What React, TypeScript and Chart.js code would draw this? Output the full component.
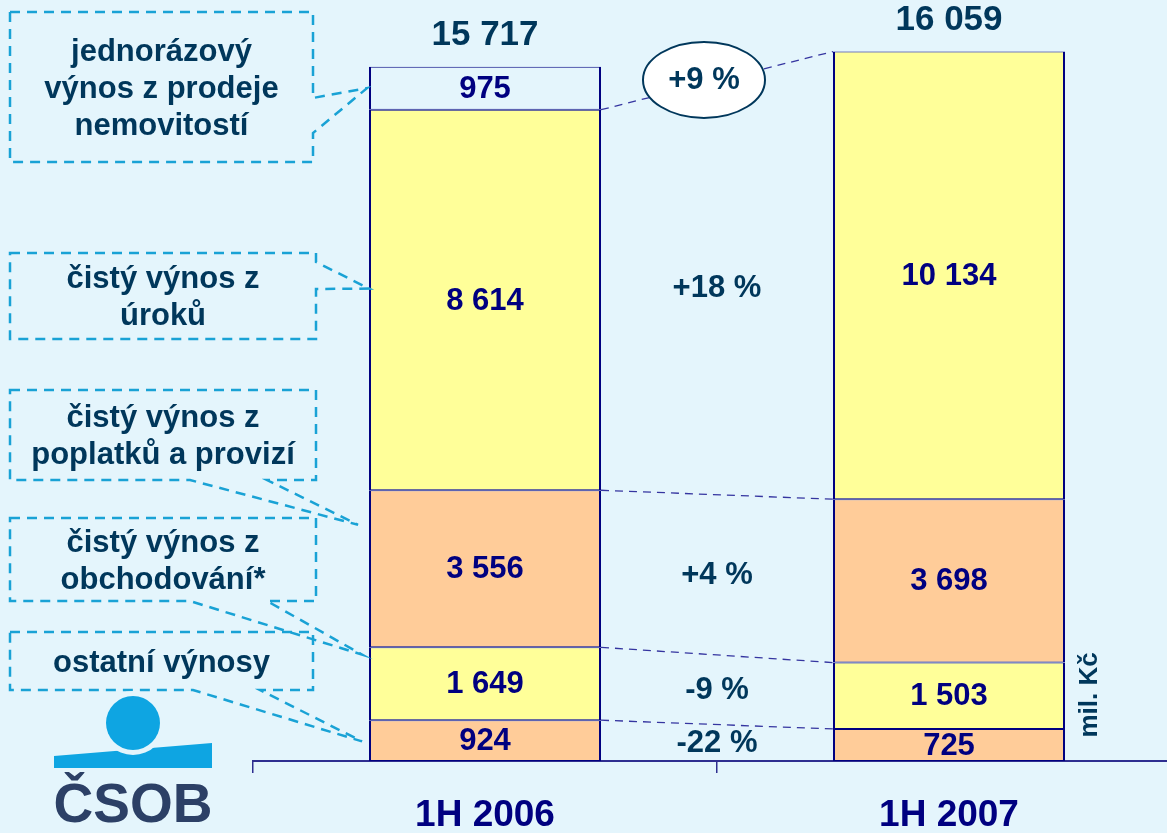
import React, { useEffect, useRef } from "react";
import { Chart, registerables } from "chart.js";

Chart.register(...registerables);

// ---------- data ----------
const categories = ["1H 2006", "1H 2007"];
const otherIncome = [924, 725];
const tradingIncome = [1649, 1503];
const feeIncome = [3556, 3698];
const interestIncome = [8614, 10134];
const oneOffIncome: (number | null)[] = [975, null];
const totals = [15717, 16059];
const changeLabels = ["-22 %", "-9 %", "+4 %", "+18 %", "+9 %"];
const seriesNames = [
  "ostatní výnosy",
  "čistý výnos z obchodování*",
  "čistý výnos z poplatků a provizí",
  "čistý výnos z úroků",
  "jednorázový výnos z prodeje nemovitostí",
];
const calloutLines = [
  ["ostatní výnosy"],
  ["čistý výnos z", "obchodování*"],
  ["čistý výnos z", "poplatků a provizí"],
  ["čistý výnos z", "úroků"],
  ["jednorázový", "výnos z prodeje", "nemovitostí"],
];
const unitLabel = "mil. Kč";
const logoText = "ČSOB";

// ---------- styles ----------
const FONT = '"Liberation Sans", Arial, sans-serif';
const BG = "#E4F5FC";
const YELLOW = "#FFFF99";
const ORANGE = "#FFCC99";
const NAVY = "#000080";
const DARK = "#00375B";
const CYAN = "#19A2D5";
const AXIS = "#2E2E90";

const fmt = (n: number) => String(n).replace(/\B(?=(\d{3})+(?!\d))/g, " ");

// decorative callout geometry (pixels)
const callouts = [
  { series: 0, box: [10, 632, 313, 690], side: "bottom", base: [193, 260], tipFrac: 0.52, tipDx: -7 },
  { series: 1, box: [10, 518, 316, 601], side: "bottom", base: [190, 267], tipFrac: 0.1, tipDx: -7 },
  { series: 2, box: [10, 390, 316, 480], side: "bottom", base: [190, 267], tipFrac: 0.22, tipDx: -11 },
  { series: 3, box: [10, 253, 316, 339], side: "right", base: [262, 289], tipFrac: 0.47, tipDx: 0 },
  { series: 4, box: [10, 12, 313, 162], side: "right", base: [98, 133], tipFrac: 0.5, tipDx: -2 },
];

const overlay = {
  id: "overlay",
  afterDatasetsDraw(chart: any) {
    const ctx = chart.ctx as CanvasRenderingContext2D;
    const n = chart.data.datasets.length;
    const els: any[][] = [];
    for (let i = 0; i < n; i++) {
      const meta = chart.getDatasetMeta(i);
      els.push(meta.data.map((e: any) => e.getProps(["x", "y", "base", "width"], true)));
    }
    const vals = (i: number, j: number) => chart.data.datasets[i].data[j] as number | null;

    // connectors between bars
    ctx.save();
    ctx.strokeStyle = "#3535A0";
    ctx.lineWidth = 1.3;
    ctx.setLineDash([8, 6]);
    for (let k = 0; k < 4; k++) {
      const a = els[k][0];
      const b = els[k][1];
      ctx.beginPath();
      ctx.moveTo(a.x + a.width / 2, a.y);
      ctx.lineTo(b.x - b.width / 2, b.y);
      ctx.stroke();
    }
    ctx.restore();

    // segment labels
    ctx.save();
    ctx.textAlign = "center";
    ctx.textBaseline = "middle";
    ctx.fillStyle = NAVY;
    ctx.font = `bold 31px ${FONT}`;
    for (let i = 0; i < n; i++) {
      for (let j = 0; j < categories.length; j++) {
        const v = vals(i, j);
        if (v == null) continue;
        const e = els[i][j];
        ctx.fillText(fmt(v), e.x, (e.y + e.base) / 2 + 1);
      }
    }
    ctx.restore();

    // totals
    ctx.save();
    ctx.textAlign = "center";
    ctx.textBaseline = "middle";
    ctx.fillStyle = DARK;
    ctx.font = `bold 35px ${FONT}`;
    const yScale = chart.scales.y;
    for (let j = 0; j < categories.length; j++) {
      const x = els[0][j].x;
      const top = yScale.getPixelForValue(totals[j]);
      ctx.fillText(fmt(totals[j]), x, top - 31);
    }
    ctx.restore();

    // change labels
    const x0 = els[0][0].x + els[0][0].width / 2;
    const x1 = els[0][1].x - els[0][1].width / 2;
    const mid = (x0 + x1) / 2;
    ctx.save();
    ctx.textAlign = "center";
    ctx.textBaseline = "middle";
    ctx.fillStyle = DARK;
    ctx.font = `bold 31px ${FONT}`;
    for (let k = 0; k < 4; k++) {
      const a = els[k][0];
      const b = els[k][1];
      const y = ((a.y + a.base) / 2 + (b.y + b.base) / 2) / 2;
      ctx.fillText(changeLabels[k], mid, y + 1);
    }
    // ellipse for total change
    const a3 = els[3][0];
    const b3 = els[3][1];
    const ex = mid - 13;
    const t = (ex - x0) / (x1 - x0);
    const ey = a3.y + (b3.y - a3.y) * t - 4;
    ctx.beginPath();
    ctx.ellipse(ex, ey, 61, 38, 0, 0, Math.PI * 2);
    ctx.fillStyle = "#FFFFFF";
    ctx.fill();
    ctx.lineWidth = 2;
    ctx.strokeStyle = DARK;
    ctx.stroke();
    ctx.fillStyle = DARK;
    ctx.fillText(changeLabels[4], ex, ey + 1);
    ctx.restore();

    // callouts
    ctx.save();
    const barLeft = els[0][0].x - els[0][0].width / 2;
    for (const c of callouts) {
      const [l, tp, r, bt] = c.box;
      const e = els[c.series][0];
      const tipX = barLeft + c.tipDx;
      const tipY = e.y + (e.base - e.y) * c.tipFrac;
      ctx.beginPath();
      ctx.moveTo(l, tp);
      ctx.lineTo(r, tp);
      if (c.side === "right") {
        ctx.lineTo(r, c.base[0]);
        ctx.lineTo(tipX, tipY);
        ctx.lineTo(r, c.base[1]);
        ctx.lineTo(r, bt);
        ctx.lineTo(l, bt);
      } else {
        ctx.lineTo(r, bt);
        ctx.lineTo(c.base[1], bt);
        ctx.lineTo(tipX, tipY);
        ctx.lineTo(c.base[0], bt);
        ctx.lineTo(l, bt);
      }
      ctx.closePath();
      ctx.strokeStyle = CYAN;
      ctx.lineWidth = 2.5;
      ctx.setLineDash([10, 7]);
      ctx.stroke();
      ctx.setLineDash([]);
      const lines = calloutLines[c.series];
      const cx = (l + r) / 2;
      const cy = (tp + bt) / 2 + 2;
      const lh = 37;
      ctx.fillStyle = DARK;
      ctx.font = `bold 31px ${FONT}`;
      ctx.textAlign = "center";
      ctx.textBaseline = "middle";
      lines.forEach((s, i) => {
        ctx.fillText(s, cx, cy + (i - (lines.length - 1) / 2) * lh);
      });
    }
    ctx.restore();

    // unit label
    const ca = chart.chartArea;
    const lastBar = els[0][1];
    ctx.save();
    ctx.translate(lastBar.x + lastBar.width / 2 + 25, ca.bottom - 66);
    ctx.rotate(-Math.PI / 2);
    ctx.textAlign = "center";
    ctx.textBaseline = "middle";
    ctx.fillStyle = DARK;
    ctx.font = `bold 26px ${FONT}`;
    ctx.fillText(unitLabel, 0, 0);
    ctx.restore();

    // logo
    ctx.save();
    const lcx = 133;
    const lcy = 723;
    ctx.fillStyle = "#0EA5E2";
    ctx.beginPath();
    ctx.moveTo(54, 756);
    ctx.lineTo(212, 743);
    ctx.lineTo(212, 768);
    ctx.lineTo(54, 768);
    ctx.closePath();
    ctx.fill();
    ctx.fillStyle = BG;
    ctx.beginPath();
    ctx.arc(lcx, lcy, 32, 0, Math.PI * 2);
    ctx.fill();
    ctx.fillStyle = "#0EA5E2";
    ctx.beginPath();
    ctx.arc(lcx, lcy, 27, 0, Math.PI * 2);
    ctx.fill();
    ctx.fillStyle = "#2C4066";
    ctx.font = `bold 55px ${FONT}`;
    ctx.textAlign = "center";
    ctx.textBaseline = "alphabetic";
    ctx.fillText(logoText, lcx, 822);
    ctx.restore();
  },
};

function makeDataset(label: string, data: (number | null)[], color: string) {
  return {
    label,
    data,
    backgroundColor: color,
    borderColor: NAVY,
    borderWidth: { top: 1, bottom: 1, left: 2, right: 2 },
    borderSkipped: false as const,
    categoryPercentage: 1,
    barPercentage: 0.5,
  };
}

export default function App() {
  const ref = useRef<HTMLCanvasElement | null>(null);
  useEffect(() => {
    if (!ref.current) return;
    const chart = new Chart(ref.current, {
      type: "bar",
      data: {
        labels: categories,
        datasets: [
          makeDataset(seriesNames[0], otherIncome, ORANGE),
          makeDataset(seriesNames[1], tradingIncome, YELLOW),
          makeDataset(seriesNames[2], feeIncome, ORANGE),
          makeDataset(seriesNames[3], interestIncome, YELLOW),
          makeDataset(seriesNames[4], oneOffIncome, BG),
        ] as any,
      },
      options: {
        responsive: false,
        animation: false,
        devicePixelRatio: 1,
        layout: { padding: { left: 253, top: 10, right: 0, bottom: 0 } },
        plugins: { legend: { display: false }, tooltip: { enabled: false } },
        scales: {
          x: {
            stacked: true,
            grid: {
              display: true,
              drawOnChartArea: false,
              drawTicks: true,
              tickLength: 12,
              color: AXIS,
              lineWidth: 1.5,
              offset: true,
            },
            border: { display: true, color: AXIS, width: 2 },
            ticks: {
              color: NAVY,
              font: { family: FONT, size: 37, weight: "bold" },
              padding: 21,
              maxRotation: 0,
              autoSkip: false,
            },
            afterFit: (scale: any) => {
              scale.height = 72;
            },
          },
          y: { stacked: true, display: false, min: 0, max: 17000 },
        },
      } as any,
      plugins: [overlay],
    });
    return () => chart.destroy();
  }, []);
  return (
    <div
      style={{
        position: "fixed",
        left: 0,
        top: 0,
        width: 1167,
        height: 833,
        overflow: "hidden",
        background: BG,
      }}
    >
      <canvas ref={ref} width={1181} height={833} style={{ display: "block" }} />
    </div>
  );
}
